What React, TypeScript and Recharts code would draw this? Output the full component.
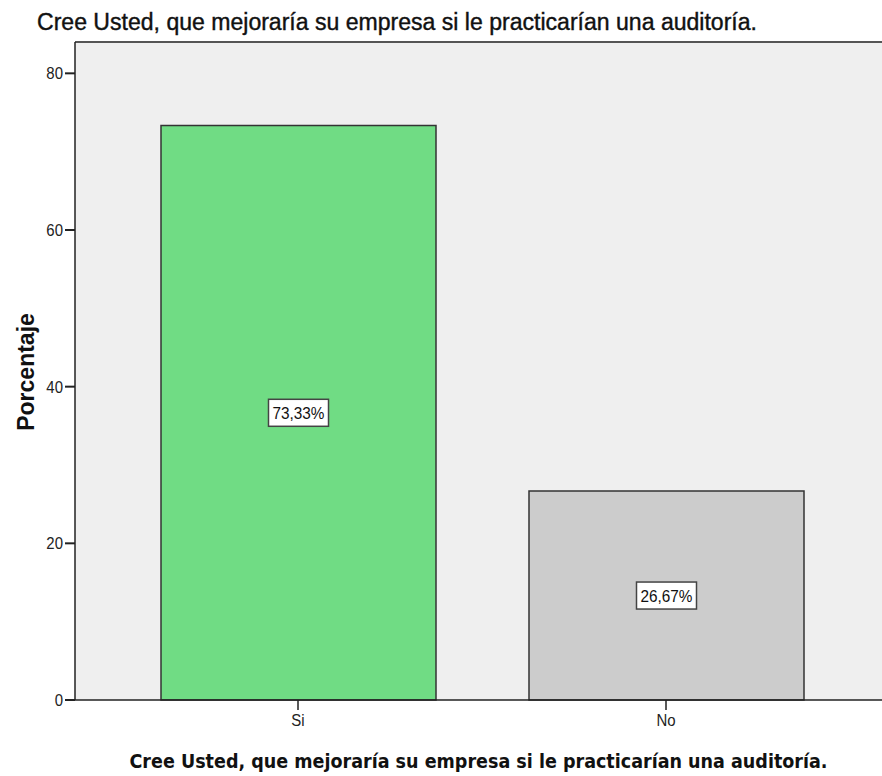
import React from 'react';
import { BarChart, Bar, XAxis, YAxis, CartesianGrid, ReferenceLine, LabelList, Cell } from 'recharts';

// values
const categories = ['Si', 'No'];
const percentages = [73.33, 26.67];
const percentLabels = ['73,33%', '26,67%'];
const barColors = ['#70dc84', '#cccccc'];
const yTicks = [0, 20, 40, 60, 80];

const titleText = 'Cree Usted, que mejoraría su empresa si le practicarían una auditoría.';

const data = categories.map((c, i) => ({ category: c, value: percentages[i], label: percentLabels[i] }));

const sans = '"Liberation Sans", Arial, sans-serif';

const BoxLabel = (props: any) => {
    const { x, y, width, height, value } = props;
    const cx = x + width / 2;
    const cy = y + height / 2;
    const w = 60;
    const h = 27;
    return (
        <g>
            <rect x={cx - w / 2} y={cy - h / 2} width={w} height={h} fill="#ffffff" stroke="#444" strokeWidth={1.5} />
            <text x={cx} y={cy + 6} textAnchor="middle" fontSize={16.5} fontFamily={sans} fill="#111" textLength={52} lengthAdjust="spacingAndGlyphs">
                {value}
            </text>
        </g>
    );
};

const YLabel = (props: any) => {
    const { viewBox } = props;
    const cy = viewBox.y + viewBox.height / 2 + 1;
    return (
        <text transform={`translate(34, ${cy}) rotate(-90)`} textAnchor="middle" fontSize={23} fontWeight="bold" fontFamily={sans} fill="#111">
            Porcentaje
        </text>
    );
};

// SPSS tick text is slightly condensed
const YTick = (props: any) => {
    const { x, y, payload } = props;
    return (
        <g transform={`translate(${x}, ${y + 6}) scale(0.88, 1)`}>
            <text x={0} y={0} textAnchor="end" fontSize={17} fontFamily={sans} fill="#222">
                {payload.value}
            </text>
        </g>
    );
};

const XTick = (props: any) => {
    const { x, y, payload } = props;
    return (
        <g transform={`translate(${x}, ${y + 14}) scale(0.88, 1)`}>
            <text x={0} y={0} textAnchor="middle" fontSize={17} fontFamily={sans} fill="#222">
                {payload.value}
            </text>
        </g>
    );
};

export default function App() {
    return (
        <div style={{ position: 'absolute', left: 0, top: 0, width: 882, height: 776, background: '#fff', overflow: 'hidden' }}>
            <svg width={882} height={40} style={{ position: 'absolute', left: 0, top: 0 }}>
                <text x={37} y={30} fontFamily={sans} fontSize={23} fill="#111" stroke="#111" strokeWidth={0.4}
                    textLength={720} lengthAdjust="spacingAndGlyphs">
                    {titleText}
                </text>
            </svg>
            <BarChart width={882} height={776} data={data} margin={{ top: 42, right: 0, left: 0, bottom: 0 }} barSize={275}>
                <CartesianGrid fill="#efefef" horizontal={false} vertical={false} />
                <ReferenceLine y={84} stroke="#555" strokeWidth={2} ifOverflow="extendDomain" />
                <XAxis
                    dataKey="category"
                    height={76}
                    padding={{ left: 39, right: 32 }}
                    axisLine={{ stroke: '#222', strokeWidth: 1.5 }}
                    tickLine={{ stroke: '#222', strokeWidth: 1.5 }}
                    tickSize={10}
                    tick={<XTick />}
                    label={{
                        value: titleText,
                        position: 'insideBottom',
                        offset: 8,
                        fill: '#111',
                        fontSize: 19.5,
                        fontWeight: 'bold',
                        fontFamily: '"DejaVu Sans Condensed", "DejaVu Sans", sans-serif',
                    }}
                />
                <YAxis
                    width={75}
                    domain={[0, 84]}
                    ticks={yTicks}
                    axisLine={{ stroke: '#222', strokeWidth: 1.5 }}
                    tickLine={{ stroke: '#222', strokeWidth: 2 }}
                    tickSize={10}
                    tick={<YTick />}
                    label={<YLabel />}
                />
                <Bar dataKey="value" stroke="#333" strokeWidth={1.5} isAnimationActive={false}>
                    {data.map((d, i) => (
                        <Cell key={d.category} fill={barColors[i]} />
                    ))}
                    <LabelList dataKey="label" content={BoxLabel} />
                </Bar>
            </BarChart>
        </div>
    );
}
